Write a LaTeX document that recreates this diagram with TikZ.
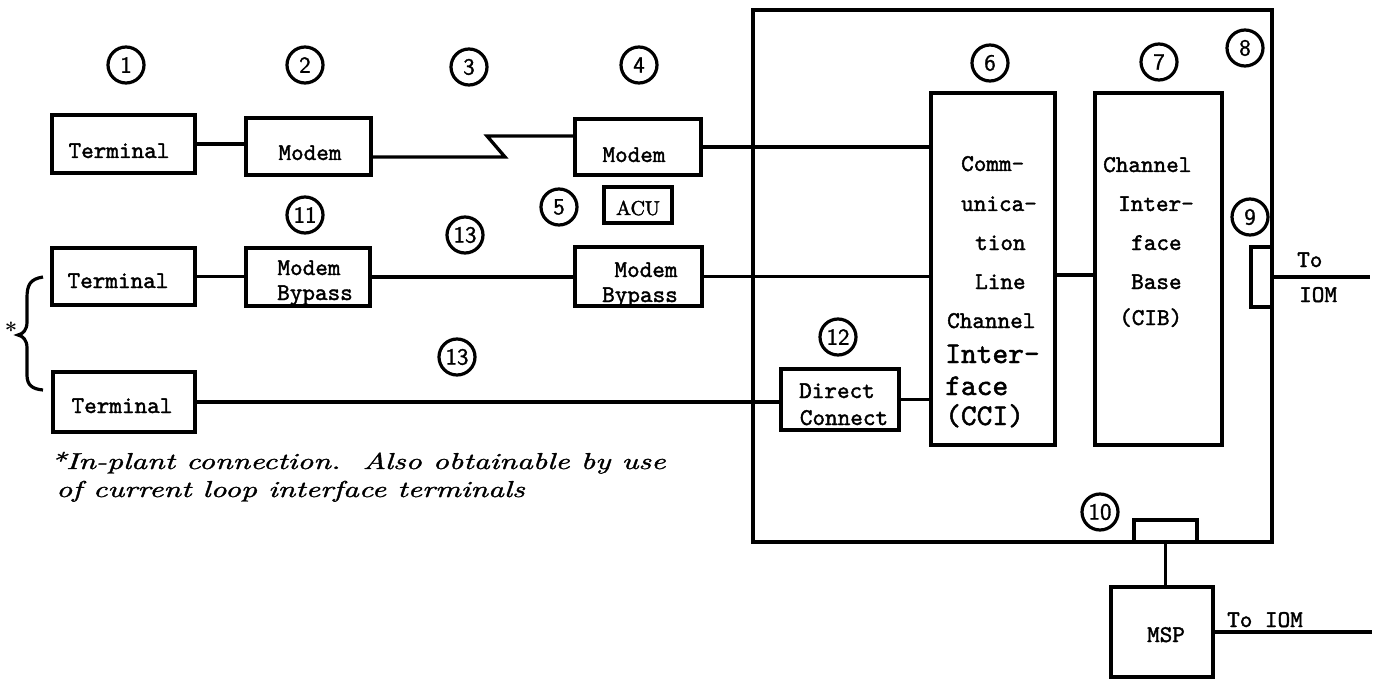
\documentclass[tikz,border=0pt]{standalone}
\usepackage{fontspec}
\newfontfamily\ttb{lmmono10-regular}[Extension=.otf,FakeBold=1.6]
\newfontfamily\sfb{lmsans10-regular}[Extension=.otf,FakeBold=1.2]
\newfontfamily\rmb{lmroman10-regular}[Extension=.otf,FakeBold=2]
\newfontfamily\itb{lmroman10-italic}[Extension=.otf,FakeBold=1.2]
\begin{document}
\begin{tikzpicture}[x=1pt,y=-1pt,
  box/.style={draw,line width=3.6pt,rectangle,inner sep=0pt},
  num/.style={draw,circle,line width=3.2pt,minimum size=36pt,inner sep=0pt,font=\fontsize{23}{23}\selectfont\sfb},
  tt/.style={inner sep=0pt,font=\fontsize{24}{28}\selectfont\ttb},
  ttbig/.style={inner sep=0pt,font=\fontsize{30}{34}\selectfont\ttb},
  foot/.style={inner sep=0pt,anchor=base west,font=\fontsize{23}{23}\selectfont\itb},
  conn/.style={line width=3.3pt}]
\useasboundingbox (0,0) rectangle (1373,679);

% boxes
\node[box,minimum width=143pt,minimum height=58pt] (t1) at (123.5,144) {};
\node[box,minimum width=125pt,minimum height=57pt] (m2) at (308.5,146.5) {};
\node[box,minimum width=126pt,minimum height=56pt] (m4) at (638,147) {};
\node[box,line width=3.2pt,minimum width=68pt,minimum height=36pt] (acu) at (638,205) {};
\node[box,minimum width=143pt,minimum height=57pt] (t2) at (123.5,276.5) {};
\node[box,minimum width=124pt,minimum height=58pt] (mb1) at (308,277) {};
\node[box,minimum width=127pt,minimum height=59pt] (mb2) at (638.5,276.5) {};
\node[box,minimum width=142pt,minimum height=60pt] (t3) at (124,402) {};
\node[box,minimum width=118pt,minimum height=61pt] (dc) at (840,399.5) {};
\node[box,minimum width=519pt,minimum height=532pt,line width=4pt] (big) at (1012.5,276) {};
\node[box,minimum width=124pt,minimum height=352pt] (cci) at (993,269) {};
\node[box,minimum width=127pt,minimum height=352pt] (cib) at (1158.5,269) {};
\node[box,minimum width=21pt,minimum height=60pt] (p9) at (1261.5,277) {};
\node[box,minimum width=63pt,minimum height=22pt] (p10) at (1165.5,531) {};
\node[box,minimum width=102pt,minimum height=90pt] (msp) at (1162,632) {};

% box texts
\node[tt,anchor=base] (t1l) at (119,158) {Terminal};
\node[tt,anchor=base] (m2l) at (310,160) {Modem};
\node[tt,anchor=base] (m4l) at (634,162) {Modem};
\node[inner sep=0pt,anchor=base,font=\fontsize{20}{22}\selectfont\rmb] (acul) at (638,215) {ACU};
\node[tt,anchor=base] (t2l) at (118,288) {Terminal};
\node[tt,anchor=base] (mb1a) at (309,275) {Modem};
\node[tt,anchor=base] (mb1b) at (315,300) {Bypass};
\node[tt,anchor=base] (mb2a) at (646,277) {Modem};
\node[tt,anchor=base] (mb2b) at (640,302) {Bypass};
\node[tt,anchor=base] (t3l) at (122,413) {Terminal};
\node[tt,anchor=base] (dca) at (837,398) {Direct};
\node[tt,anchor=base] (dcb) at (844,425) {Connect};
\node[tt,anchor=base] (mspl) at (1166,642) {MSP};

\node[tt,anchor=base west] (c1) at (961,171) {Comm-};
\node[tt,anchor=base west] (c2) at (961,211) {unica-};
\node[tt,anchor=base west] (c3) at (975,250) {tion};
\node[tt,anchor=base west] (c4) at (975,289) {Line};
\node[tt,anchor=base west] (c5) at (947,328) {Channel};
\node[ttbig,anchor=base west] (c6) at (945,363) {Inter-};
\node[ttbig,anchor=base west] (c7) at (945,395) {face};
\node[ttbig,anchor=base west] (c8) at (945,425) {(CCI)};

\node[tt,anchor=base west] (b1) at (1103,172) {Channel};
\node[tt,anchor=base west] (b2) at (1118,211) {Inter-};
\node[tt,anchor=base west] (b3) at (1131,250) {face};
\node[tt,anchor=base west] (b4) at (1131,289) {Base};
\node[tt,anchor=base west] (b5) at (1119,325) {(CIB)};

\node[tt,anchor=base west] (to1) at (1297,267) {To};
\node[tt,anchor=base west] (to2) at (1299,302) {IOM};
\node[tt,anchor=base west] (to3) at (1227,627) {To IOM};

% numbered circles
\node[num] (n1) at (126,65) {1};
\node[num] (n2) at (305,65) {2};
\node[num] (n3) at (469,67) {3};
\node[num] (n4) at (639,65) {4};
\node[num] (n5) at (559,207) {5};
\node[num] (n6) at (990,63) {6};
\node[num] (n7) at (1159,62) {7};
\node[num] (n8) at (1245,48) {8};
\node[num] (n9) at (1250,217) {9};
\node[num] (n10) at (1100,512) {10};
\node[num] (n11) at (305,215) {11};
\node[num] (n12) at (838,337) {12};
\node[num] (n13a) at (465,235) {13};
\node[num] (n13b) at (457,357) {13};

% connectors
\coordinate (z1) at (505,157);
\coordinate (z2) at (487,136);
\coordinate (iom1) at (1370,275);
\coordinate (iom2) at (1372,632);
\draw[conn] (t1.east) -- (t1.east -| m2.west);
\draw[conn] ([yshift=-10.5pt]m2.east) -- (z1) -- (z2) -- (z2 -| m4.west);
\draw[conn] (m4.east) -- (m4.east -| cci.west);
\draw[conn] (t2.east) -- (t2.east -| mb1.west);
\draw[conn] (mb1.east) -- (mb1.east -| mb2.west);
\draw[conn] (mb2.east) -- (mb2.east -| cci.west);
\draw[conn] ([yshift=-6pt]cci.east) -- ([yshift=-6pt]cci.east -| cib.west);
\draw[conn] (p9.east) -- (p9.east -| iom1);
\draw[conn] (t3.east) -- (t3.east -| dc.west);
\draw[conn] (dc.east) -- (dc.east -| cci.west);
\draw[conn] (p10.south) -- (p10.south |- msp.north);
\draw[conn] (msp.east) -- (msp.east -| iom2);

% brace and footnote
\draw[line width=3.2pt] (43,277) .. controls (30,279) and (27,285) .. (27,298) -- (27,322)
  .. controls (27,330) and (23,334) .. (18,335) .. controls (23,336) and (27,340) .. (27,348)
  -- (27,375) .. controls (27,385) and (32,389) .. (43,390);
\node[inner sep=0pt,font=\fontsize{22}{22}\selectfont\bfseries] (ast) at (11,330) {*};
\node[foot] (fn1) at (50,469) {\scalebox{1.36}[1]{*In-plant connection.\ \ Also obtainable by use}};
\node[foot] (fn2) at (56,497) {\scalebox{1.36}[1]{of current loop interface terminals}};
\end{tikzpicture}
\end{document}
